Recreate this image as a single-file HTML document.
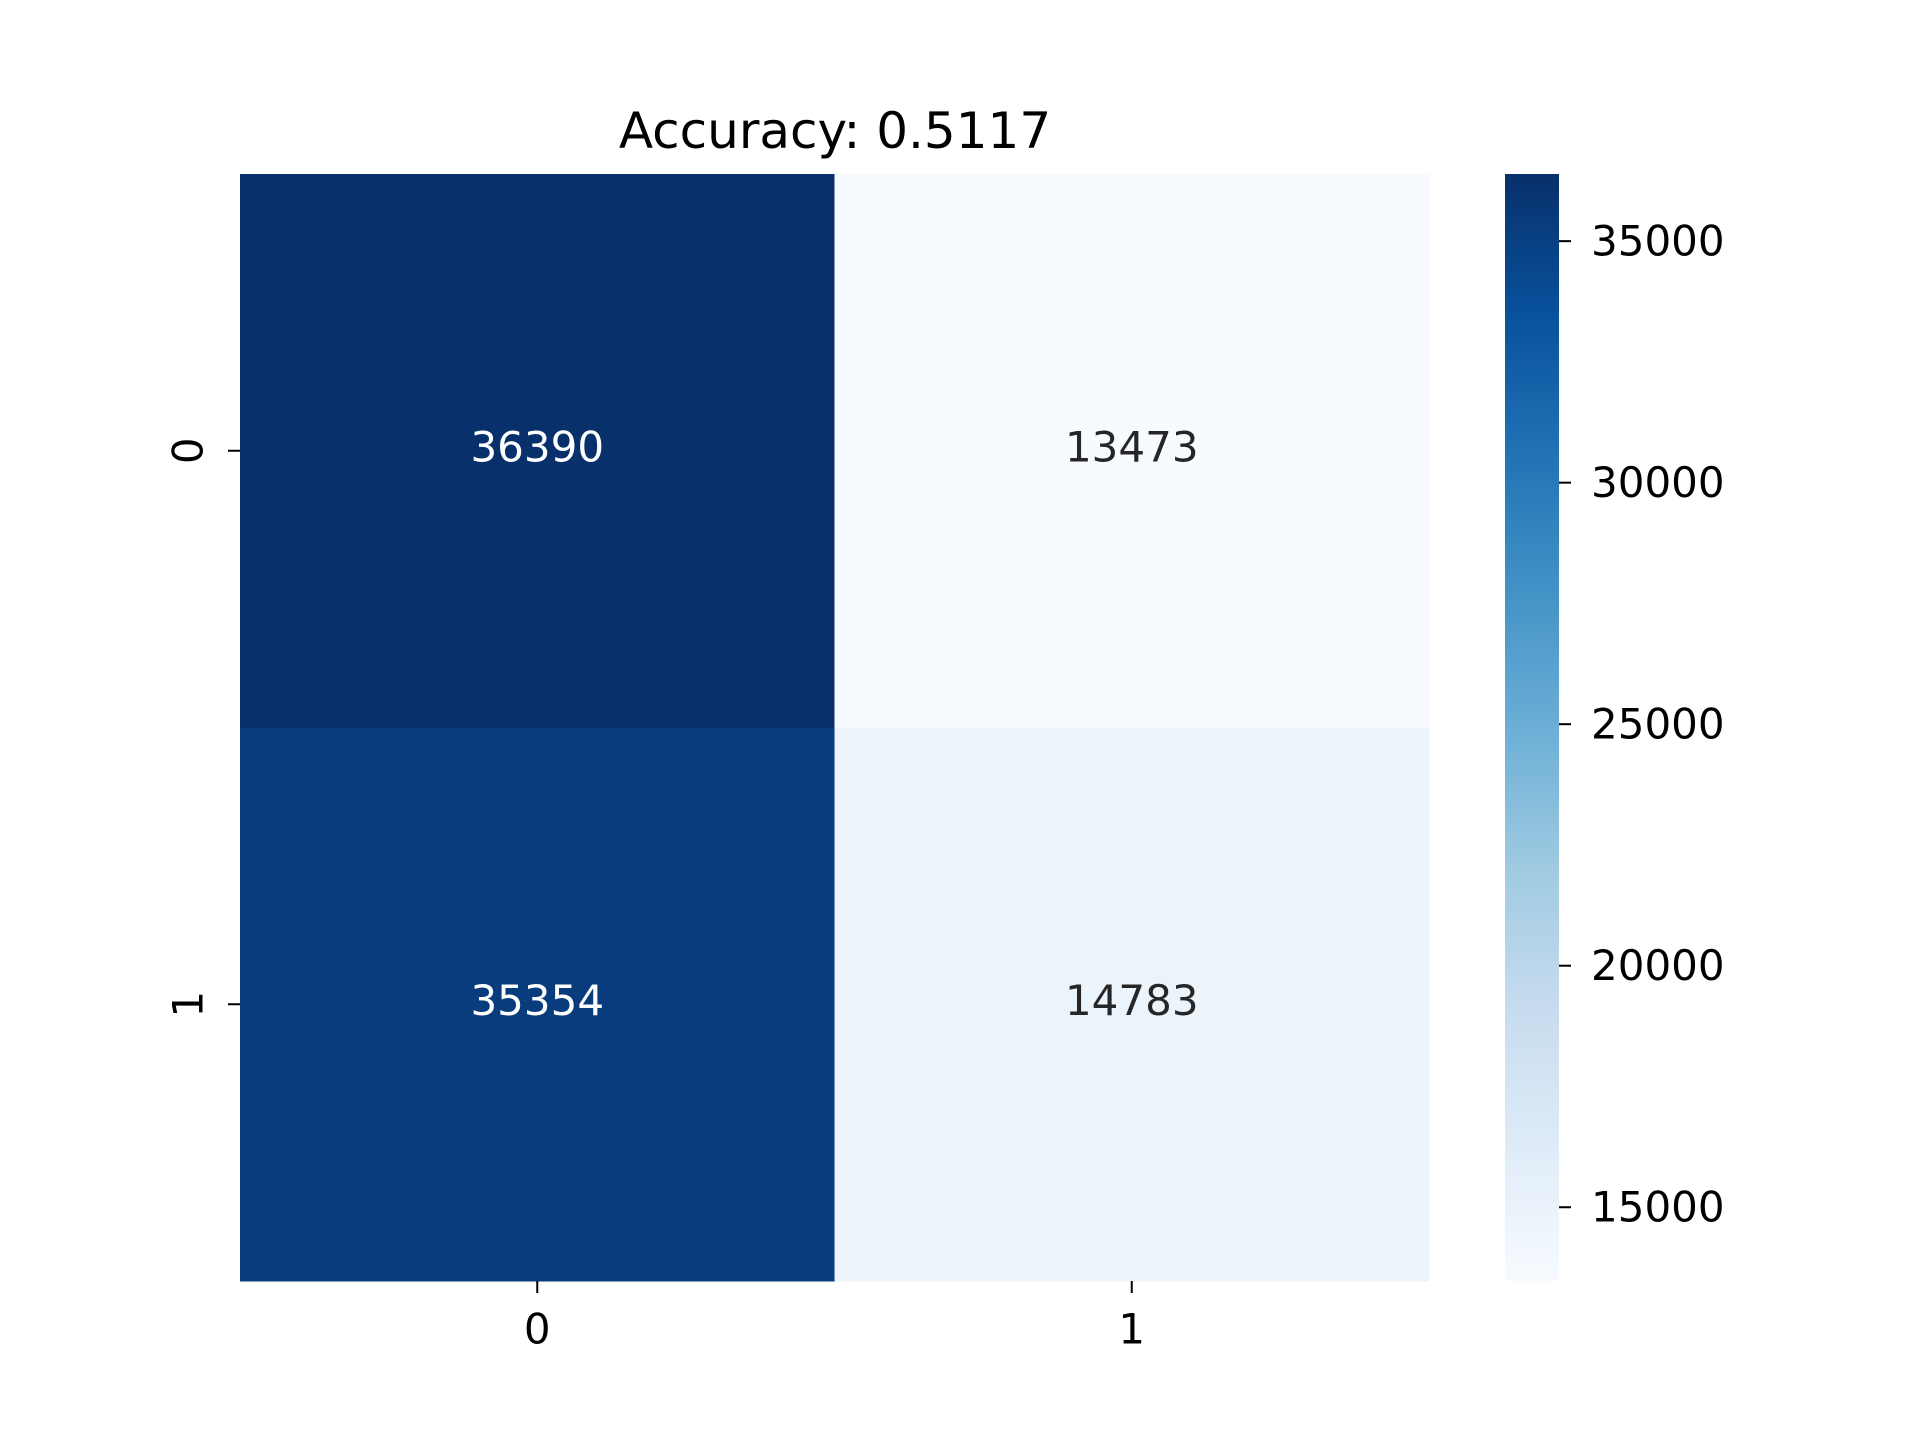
<!DOCTYPE html>
<html><head><meta charset="utf-8"><style>
html,body{margin:0;padding:0;background:#fff;}
svg{display:block;font-family:"DejaVu Sans","Liberation Sans",sans-serif;}
</style></head><body>
<svg id="chart" width="1920" height="1440" viewBox="0 0 1920 1440" xmlns="http://www.w3.org/2000/svg">
<rect width="1920" height="1440" fill="#fff"/>
<text x="835" y="131" font-size="50" text-anchor="middle" dominant-baseline="central" fill="#000">Accuracy: 0.5117</text>
<g id="cells"></g>
<g id="axes"></g>
<defs><linearGradient id="cbgrad" x1="0" y1="1" x2="0" y2="0">
<stop offset="0" stop-color="#f7fbff"/><stop offset="0.125" stop-color="#deebf7"/><stop offset="0.25" stop-color="#c6dbef"/><stop offset="0.375" stop-color="#9ecae1"/><stop offset="0.5" stop-color="#6baed6"/><stop offset="0.625" stop-color="#4292c6"/><stop offset="0.75" stop-color="#2171b5"/><stop offset="0.875" stop-color="#08519c"/><stop offset="1" stop-color="#08306b"/>
</linearGradient></defs>
<rect x="1505" y="174" width="54" height="1107" fill="url(#cbgrad)"/>
<g id="cbticks"></g>
</svg>
<script>
const rowLabels = ["0","1"];
const colLabels = ["0","1"];
const values = [[36390,13473],[35354,14783]];
const cbTicks = [15000,20000,25000,30000,35000];

const L=240,R=1429,T=174,B=1281, CBX=1505, CBW=54;
const vmin=Math.min(...values.flat()), vmax=Math.max(...values.flat());
const stops=["#f7fbff","#deebf7","#c6dbef","#9ecae1","#6baed6","#4292c6","#2171b5","#08519c","#08306b"];
function hex(c){return [1,3,5].map(i=>parseInt(c.substr(i,2),16));}
function cmap(v){let t=(v-vmin)/(vmax-vmin);t=Math.max(0,Math.min(1,t));const p=t*(stops.length-1);const i=Math.min(Math.floor(p),stops.length-2);const f=p-i;const a=hex(stops[i]),b=hex(stops[i+1]);return "rgb("+a.map((x,k)=>Math.round(x+(b[k]-x)*f)).join(",")+")";}
const NS="http://www.w3.org/2000/svg";
const cw=(R-L)/colLabels.length, ch=(B-T)/rowLabels.length;
const xPos=j=>L+cw*j, yPos=i=>T+ch*i;
const cb=v=>B-(v-vmin)/(vmax-vmin)*(B-T);
function mk(tag,attrs,parent){const e=document.createElementNS(NS,tag);for(const k in attrs)e.setAttribute(k,attrs[k]);parent.appendChild(e);return e;}
const cells=document.getElementById('cells'), axes=document.getElementById('axes'), cbt=document.getElementById('cbticks');
values.forEach((row,i)=>row.forEach((v,j)=>{
  const r=mk('rect',{x:xPos(j),y:yPos(i),width:cw+0.5,height:ch+0.5,fill:cmap(v)},cells);
  
  
  const t=mk('text',{x:xPos(j)+cw/2,y:yPos(i)+ch/2-4,'font-size':42,'text-anchor':'middle','dominant-baseline':'central',fill:((v-vmin)/(vmax-vmin)>0.5)?'#ffffff':'#262626'},cells);
  t.textContent=v;
  
  
}));
colLabels.forEach((c,j)=>{
  const x=xPos(j)+cw/2;
  const tk=mk('line',{x1:x,y1:B,x2:x,y2:B+12,stroke:'#000','stroke-width':2},axes);
  
  
  const t=mk('text',{x:x,y:B+48,'font-size':42,'text-anchor':'middle','dominant-baseline':'central',fill:'#000'},axes);
  t.textContent=c;
  
  
});
rowLabels.forEach((c,i)=>{
  const y=yPos(i)+ch/2;
  const tk=mk('line',{x1:L-12,y1:y,x2:L,y2:y,stroke:'#000','stroke-width':2},axes);
  
  
  const t=mk('text',{x:188,y:y,'font-size':42,'text-anchor':'middle','dominant-baseline':'central',fill:'#000',transform:'rotate(-90 188 '+y+')'},axes);
  t.textContent=c;
  
  
});
cbTicks.forEach(v=>{
  const y=cb(v);
  const tk=mk('line',{x1:CBX+CBW,y1:y,x2:CBX+CBW+12,y2:y,stroke:'#000','stroke-width':2},cbt);
  
  
  const t=mk('text',{x:1591,y:y,'font-size':42,'text-anchor':'start','dominant-baseline':'central',fill:'#000'},cbt);
  t.textContent=v;
  
  
});
</script>
</body></html>
